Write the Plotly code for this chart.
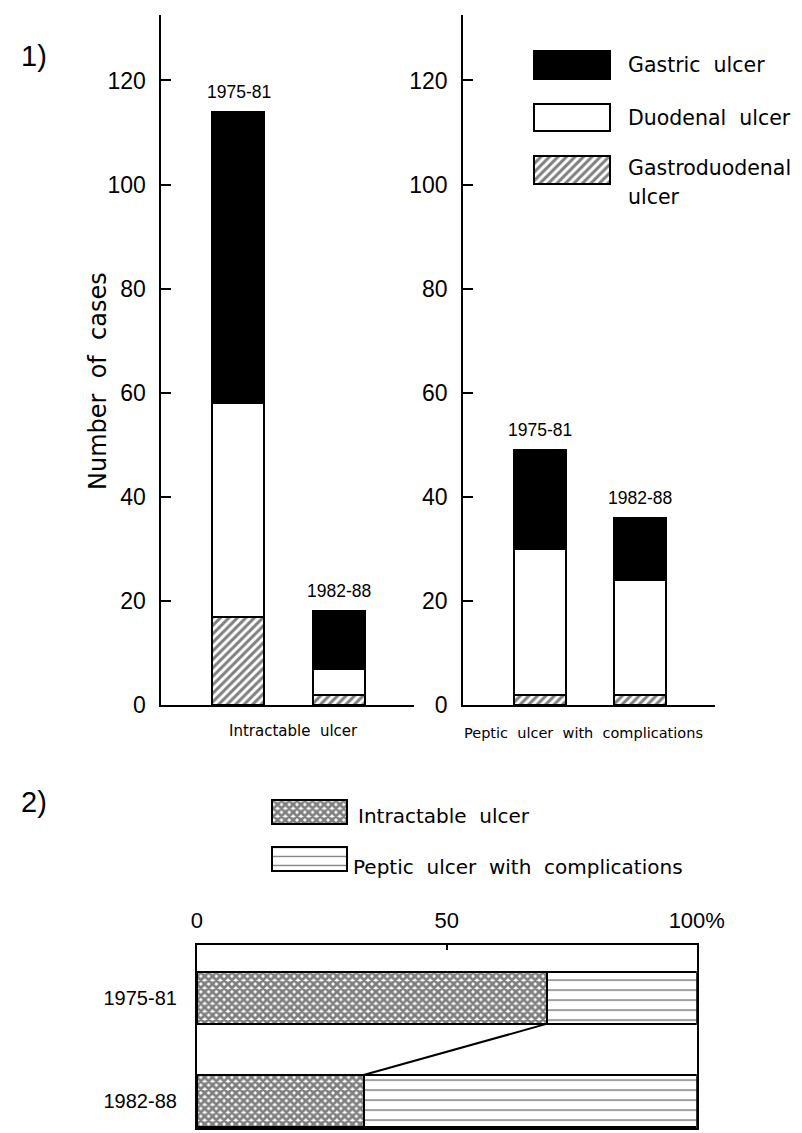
import plotly.graph_objects as go

W, H = 802, 1133

# ---------------- data ----------------
periods = ["1975-81", "1982-88"]

# Panel 1 (left): Intractable ulcer, number of cases
intr_gastroduodenal = [17, 2]
intr_duodenal = [41, 5]
intr_gastric = [56, 11]

# Panel 1 (right): Peptic ulcer with complications, number of cases
comp_gastroduodenal = [2, 2]
comp_duodenal = [28, 22]
comp_gastric = [19, 12]

count_ticks = [0, 20, 40, 60, 80, 100, 120]
pct_ticks = [0, 50, 100]
pct_ticktext = ["0", "50", "100%"]

legend1_labels = ["Gastric\u00a0 ulcer", "Duodenal\u00a0 ulcer", "Gastroduodenal"]
legend2_labels = ["Intractable\u00a0 ulcer", "Peptic\u00a0 ulcer\u00a0 with\u00a0 complications"]

# ---------------- helpers ----------------
NUM = "Liberation Sans, Arial, sans-serif"
SANS = "DejaVu Sans, Liberation Sans, sans-serif"


def dx(a, b):
    return [a / W, b / W]


def dy(top, bottom):
    return [1 - bottom / H, 1 - top / H]


def px(x):
    return x / W


def py(y):
    return 1 - y / H


HATCH = dict(shape="/", fgcolor="black", bgcolor="white", size=6, solidity=0.5)
CROSS = dict(shape="x", fgcolor="black", bgcolor="white", size=5.5, solidity=0.75)
HLINES = dict(shape="-", fgcolor="black", bgcolor="white", size=10, solidity=0.15)
OUT = dict(color="black", width=2)

fig = go.Figure()

# ---------------- panel 1: stacked bars ----------------
BW = 0.516
panels = [
    ("x", "y", intr_gastroduodenal, intr_duodenal, intr_gastric),
    ("x2", "y2", comp_gastroduodenal, comp_duodenal, comp_gastric),
]
for xa, ya, gd, du, ga in panels:
    fig.add_trace(go.Bar(x=periods, y=gd, xaxis=xa, yaxis=ya, width=BW,
                         marker=dict(color="white", pattern=HATCH, line=OUT),
                         showlegend=False))
    fig.add_trace(go.Bar(x=periods, y=du, xaxis=xa, yaxis=ya, width=BW,
                         marker=dict(color="white", line=OUT), showlegend=False))
    fig.add_trace(go.Bar(x=periods, y=ga, xaxis=xa, yaxis=ya, width=BW,
                         marker=dict(color="black", line=OUT), showlegend=False))
    for i, p in enumerate(periods):
        total = gd[i] + du[i] + ga[i]
        fig.add_annotation(x=p, y=total, xref=xa, yref=ya, text=p,
                           showarrow=False, yanchor="bottom", yshift=8,
                           font=dict(family=NUM, size=17.5, color="black"))

# ---------------- panel 2: percentage bars ----------------
tot_intr = [intr_gastroduodenal[i] + intr_duodenal[i] + intr_gastric[i] for i in range(2)]
tot_comp = [comp_gastroduodenal[i] + comp_duodenal[i] + comp_gastric[i] for i in range(2)]
pct_intr = [100 * tot_intr[i] / (tot_intr[i] + tot_comp[i]) for i in range(2)]
pct_comp = [100 - v for v in pct_intr]
ypos = list(range(len(periods)))
HBW = 0.505

fig.add_trace(go.Bar(x=pct_intr, y=ypos, orientation="h", xaxis="x3", yaxis="y3",
                     width=HBW, marker=dict(color="white", pattern=CROSS, line=OUT),
                     showlegend=False))
fig.add_trace(go.Bar(x=pct_comp, y=ypos, orientation="h", xaxis="x3", yaxis="y3",
                     width=HBW, marker=dict(color="white", pattern=HLINES, line=OUT),
                     showlegend=False))
fig.add_trace(go.Scatter(x=[pct_intr[0], pct_intr[1]],
                         y=[ypos[0] + HBW / 2, ypos[1] - HBW / 2],
                         xaxis="x3", yaxis="y3", mode="lines",
                         line=dict(color="black", width=2), showlegend=False))

# ---------------- legend swatches (as bars) ----------------
leg1_styles = [dict(color="black"), dict(color="white"), dict(color="white", pattern=HATCH)]
for i, st in enumerate(leg1_styles):
    fig.add_trace(go.Bar(x=[1], y=[i], orientation="h", xaxis="x4", yaxis="y4",
                         width=0.53, marker=dict(line=OUT, **st), showlegend=False,
                         hoverinfo="skip"))
leg2_styles = [dict(color="white", pattern=CROSS), dict(color="white", pattern=dict(HLINES, size=9))]
for i, st in enumerate(leg2_styles):
    fig.add_trace(go.Bar(x=[1], y=[i], orientation="h", xaxis="x5", yaxis="y5",
                         width=0.52, marker=dict(line=OUT, **st), showlegend=False,
                         hoverinfo="skip"))

# ---------------- axes ----------------
yax_common = dict(range=[0, 132.6], showline=True, linewidth=2, linecolor="black",
                  ticks="inside", ticklen=10, tickwidth=2, tickcolor="black",
                  tickvals=count_ticks, showgrid=False, zeroline=False,
                  tickfont=dict(family=NUM, size=23, color="black"),
                  ticklabelstandoff=9)
xax_common = dict(type="category", range=[-0.77, 1.745], showline=True, linewidth=2,
                  linecolor="black", ticks="", showticklabels=False, showgrid=False,
                  zeroline=False)

fig.update_layout(
    width=W, height=H,
    margin=dict(l=0, r=0, t=0, b=0),
    paper_bgcolor="white", plot_bgcolor="rgba(0,0,0,0)",
    barmode="stack", bargap=0,
    xaxis=dict(domain=dx(154, 418), anchor="y", **xax_common),
    yaxis=dict(domain=dy(7, 705), anchor="x", **yax_common),
    xaxis2=dict(domain=dx(469, 732), anchor="y2", **xax_common),
    yaxis2=dict(domain=dy(7, 705), anchor="x2", **yax_common),
    xaxis3=dict(domain=dx(191, 713), anchor="y3", range=[0, 100], side="top",
                showline=True, mirror=True, linewidth=2, linecolor="black",
                ticks="inside", ticklen=5, tickwidth=1.5, tickcolor="black",
                tickvals=pct_ticks, ticktext=pct_ticktext, showgrid=False,
                zeroline=False, ticklabelstandoff=6,
                tickfont=dict(family=NUM, size=22, color="black")),
    yaxis3=dict(domain=dy(948, 1133), anchor="x3", range=[1.26, -0.51],
                showline=True, mirror=True, linewidth=2, linecolor="black",
                ticks="", tickvals=ypos, ticktext=periods, showgrid=False,
                zeroline=False, ticklabelstandoff=14,
                tickfont=dict(family=NUM, size=20, color="black")),
    xaxis4=dict(domain=dx(533, 633), anchor="y4", range=[-0.125, 1.125], visible=False),
    yaxis4=dict(domain=dy(30, 190), anchor="x4", range=[2.5, -0.519], visible=False),
    xaxis5=dict(domain=dx(259, 359), anchor="y5", range=[-0.14, 1.14], visible=False),
    yaxis5=dict(domain=dy(790, 900), anchor="x5", range=[1.83, -0.5], visible=False),
)

# ---------------- text annotations ----------------
def note(x, y, text, size, family=SANS, xanchor="center", angle=0):
    fig.add_annotation(x=px(x), y=py(y), xref="paper", yref="paper", text=text,
                       showarrow=False, xanchor=xanchor, yanchor="middle",
                       textangle=angle, font=dict(family=family, size=size, color="black"))

note(21, 49, "1)", 29, NUM)
note(21, 803, "2)", 29, NUM)
note(87, 377, "Number\u00a0 of\u00a0 cases", 24, angle=-90)
note(292, 731, "Intractable\u00a0 ulcer", 15)
note(595, 733, "Peptic\u00a0 ulcer\u00a0 with\u00a0 complications", 14.5)

leg1_y = [58, 111, 162]
for lab, yy in zip(legend1_labels, leg1_y):
    note(639, yy, lab, 20.5, xanchor="left")
note(639, 191, "ulcer", 20.5, xanchor="left")

leg2_y = [817, 869]
leg2_x = [357, 352]
for lab, xx, yy in zip(legend2_labels, leg2_x, leg2_y):
    note(xx, yy, lab, 20, xanchor="left")

fig.write_html("out.html")
